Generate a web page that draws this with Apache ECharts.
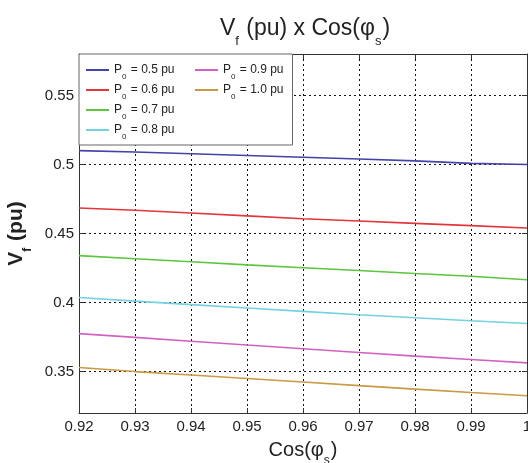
<!DOCTYPE html>
<html>
<head>
<meta charset="utf-8">
<script src="https://cdn.jsdelivr.net/npm/echarts@6/dist/echarts.min.js"></script>
<style>html,body{margin:0;padding:0;background:#fff}#c{width:528px;height:463px}</style>
</head>
<body>
<div id="c"></div>
<script>
var cosPhi = [0.92, 0.93, 0.94, 0.95, 0.96, 0.97, 0.98, 0.99, 1.00];
var yTicks = [0.35, 0.40, 0.45, 0.50, 0.55];
var seriesNames = ['0.5', '0.6', '0.7', '0.8', '0.9', '1.0'];
var p05 = [0.5100, 0.5090, 0.5078, 0.5065, 0.5052, 0.5040, 0.5026, 0.5008, 0.5000];
var p06 = [0.4685, 0.4668, 0.4648, 0.4628, 0.4607, 0.4590, 0.4573, 0.4557, 0.4540];
var p07 = [0.4340, 0.4317, 0.4295, 0.4273, 0.4252, 0.4232, 0.4210, 0.4190, 0.4165];
var p08 = [0.4037, 0.4010, 0.3985, 0.3960, 0.3936, 0.3912, 0.3890, 0.3868, 0.3848];
var p09 = [0.3775, 0.3748, 0.3720, 0.3692, 0.3665, 0.3638, 0.3612, 0.3588, 0.3563];
var p10 = [0.3530, 0.3500, 0.3475, 0.3450, 0.3424, 0.3398, 0.3373, 0.3348, 0.3325];
var allValues = [p05, p06, p07, p08, p09, p10];
var colors = ['#4343aa', '#e2363c', '#5cc63e', '#72d2e0', '#d262c2', '#c89a44'];

var FONT = 'Liberation Sans, Arial, sans-serif';
function legendLabel(n) { return 'P0 = ' + n + ' pu'; }

var series = allValues.map(function (vals, i) {
  return {
    name: legendLabel(seriesNames[i]),
    type: 'line',
    showSymbol: false,
    symbol: 'none',
    lineStyle: { width: 1.6, color: colors[i] },
    itemStyle: { color: colors[i] },
    data: cosPhi.map(function (x, j) { return [x, vals[j]]; }),
    z: 3
  };
});

var legendRich = {
  a: { fontSize: 12, fontFamily: FONT, color: '#222' },
  s: { fontSize: 8, fontFamily: FONT, color: '#222', verticalAlign: 'bottom', padding: [0, 1, -5, 0] }
};
function legendFmt(name) {
  return '{a|P}{s|0}{a|' + name.substring(2) + '}';
}
var names = series.map(function (s) { return s.name; });

var axisLineStyle = { show: true, lineStyle: { color: '#333', width: 1 } };
var tickStyle = { show: true, inside: true, length: 5, lineStyle: { color: '#333' } };
var gridLine = { show: true, lineStyle: { color: '#111', type: [2, 3], width: 1 } };

var chart = echarts.init(document.getElementById('c'), null, { renderer: 'canvas' });
chart.setOption({
  animation: false,
  backgroundColor: '#fff',
  title: {
    text: '{a|V}{s|f}{a| (pu) x Cos(φ}{s|s}{a|)}',
    left: 300,
    textAlign: 'center',
    top: 12,
    textStyle: {
      fontWeight: 'normal',
      rich: {
        a: { fontSize: 23, fontWeight: 'normal', fontFamily: FONT, color: '#222' },
        s: { fontSize: 13, fontWeight: 'normal', fontFamily: FONT, color: '#222', verticalAlign: 'bottom', padding: [0, 1, -8, 0] }
      }
    }
  },
  grid: { left: 79, right: 1, top: 54, bottom: 50, show: false, outerBoundsMode: 'none', containLabel: false },
  legend: [{
    data: names.slice(0, 4),
    orient: 'vertical',
    left: 79,
    top: 54,
    padding: [10, 118, 4, 7],
    itemGap: 3,
    itemWidth: 23,
    itemHeight: 2,
    icon: 'rect',
    backgroundColor: '#fff',
    borderColor: '#666',
    borderWidth: 1,
    formatter: legendFmt,
    textStyle: { rich: legendRich },
    z: 10
  }, {
    data: names.slice(4),
    orient: 'vertical',
    left: 188,
    top: 54,
    padding: [10, 5, 4, 7],
    itemGap: 3,
    itemWidth: 23,
    itemHeight: 2,
    icon: 'rect',
    formatter: legendFmt,
    textStyle: { rich: legendRich },
    z: 11
  }],
  xAxis: [{
    type: 'value',
    min: 0.92,
    max: 1,
    interval: 0.01,
    name: '{a|Cos(φ}{s|s}{a|)}',
    nameLocation: 'middle',
    nameGap: 27,
    nameTextStyle: {
      rich: {
        a: { fontSize: 20, fontFamily: FONT, color: '#222' },
        s: { fontSize: 12, fontFamily: FONT, color: '#222', verticalAlign: 'bottom', padding: [0, 1, -7, 0] }
      }
    },
    axisLine: axisLineStyle,
    axisTick: tickStyle,
    axisLabel: { fontSize: 15, fontFamily: FONT, color: '#222', margin: 6 },
    splitLine: gridLine
  }, {
    type: 'value',
    position: 'top',
    min: 0.92,
    max: 1,
    interval: 0.01,
    axisLine: axisLineStyle,
    axisTick: tickStyle,
    axisLabel: { show: false },
    splitLine: { show: false }
  }],
  yAxis: [{
    type: 'value',
    min: 0.32,
    max: 0.58,
    name: '{a|V}{s|f}{a| (pu)}',
    nameLocation: 'middle',
    nameGap: 44,
    nameTextStyle: {
      rich: {
        a: { fontSize: 21, fontWeight: 'bold', fontFamily: FONT, color: '#222' },
        s: { fontSize: 12, fontWeight: 'bold', fontFamily: FONT, color: '#222', verticalAlign: 'bottom', padding: [0, 1, -7, 0] }
      }
    },
    axisLine: axisLineStyle,
    axisTick: { show: true, inside: true, length: 5, lineStyle: { color: '#333' }, customValues: yTicks },
    axisLabel: { fontSize: 15, fontFamily: FONT, color: '#222', margin: 5, customValues: yTicks },
    splitLine: gridLine
  }, {
    type: 'value',
    position: 'right',
    min: 0.32,
    max: 0.58,
    axisLine: axisLineStyle,
    axisTick: { show: true, inside: true, length: 5, lineStyle: { color: '#333' }, customValues: yTicks },
    axisLabel: { show: false },
    splitLine: { show: false }
  }],
  series: series
});
</script>
</body>
</html>
